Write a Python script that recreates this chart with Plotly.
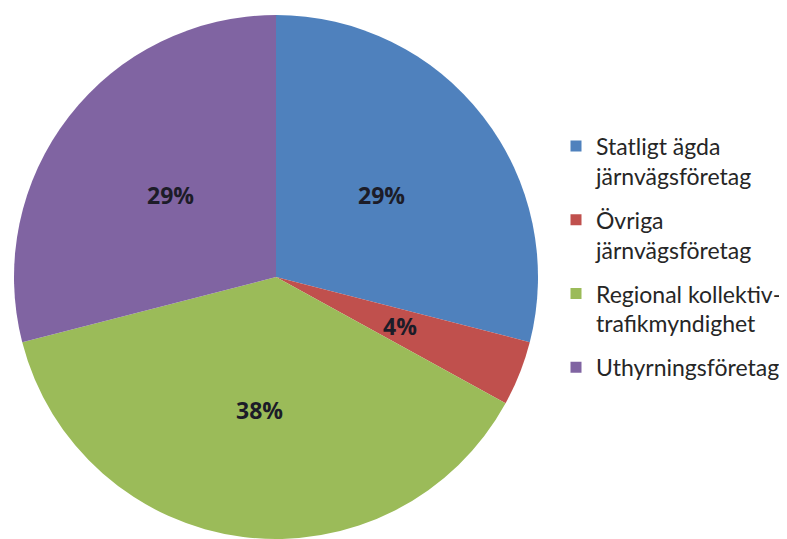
import math
import plotly.graph_objects as go

categories = [
    "Statligt ägda<br>järnvägsföretag",
    "Övriga<br>järnvägsföretag",
    "Regional kollektiv-<br>trafikmyndighet",
    "Uthyrningsföretag",
]
shares = [29, 4, 38, 29]
colors = ["#4F81BD", "#C0504D", "#9BBB59", "#8064A2"]

W, H = 787, 539
ML, MR, MT, MB = 0, 0, 7, 8
cx, r = 268, 262
pw, ph = W - ML - MR, H - MT - MB
cy = MT + ph / 2

fig = go.Figure(go.Pie(
    labels=categories,
    values=shares,
    sort=False,
    direction="clockwise",
    rotation=0,
    marker=dict(colors=colors, line=dict(width=0)),
    textinfo="none",
    showlegend=False,
    domain=dict(x=[(cx - r - ML) / pw, (cx + r - ML) / pw], y=[0, 1]),
    hoverinfo="label+percent",
))

# legend entries (one group per category so they can be spaced like the original)
for i, (name, col) in enumerate(zip(categories, colors)):
    fig.add_trace(go.Scatter(
        x=[None], y=[None], mode="markers", name=name,
        marker=dict(symbol="square", size=11, color=col),
        legendgroup=f"g{i}", showlegend=True, hoverinfo="skip",
    ))

# percentage labels placed on each slice's bisector, derived from the data
total = sum(shares)
cum = 0
annotations = []
for v in shares:
    mid = (cum + v / 2) / total * 2 * math.pi
    cum += v
    px = cx + 0.51 * r * math.sin(mid)
    py = cy - 0.51 * r * math.cos(mid)
    annotations.append(dict(
        x=(px - ML) / pw, y=(H - MB - py) / ph, xref="paper", yref="paper",
        text=f"{round(v / total * 100)}%", showarrow=False,
        font=dict(family="Open Sans", size=23, color="#1c1c28", weight="bold"),
        xanchor="center", yanchor="middle",
    ))

fig.update_layout(
    width=W, height=H,
    margin=dict(l=ML, r=MR, t=MT, b=MB),
    paper_bgcolor="white",
    plot_bgcolor="white",
    xaxis=dict(visible=False),
    yaxis=dict(visible=False),
    annotations=annotations,
    legend=dict(
        x=548 / pw, y=(H - MB - 249) / ph, xanchor="left", yanchor="middle",
        font=dict(family="Lato", size=23, color="#262626"),
        valign="top",
        traceorder="grouped",
        tracegroupgap=11,
    ),
)

fig.write_html("out.html")
